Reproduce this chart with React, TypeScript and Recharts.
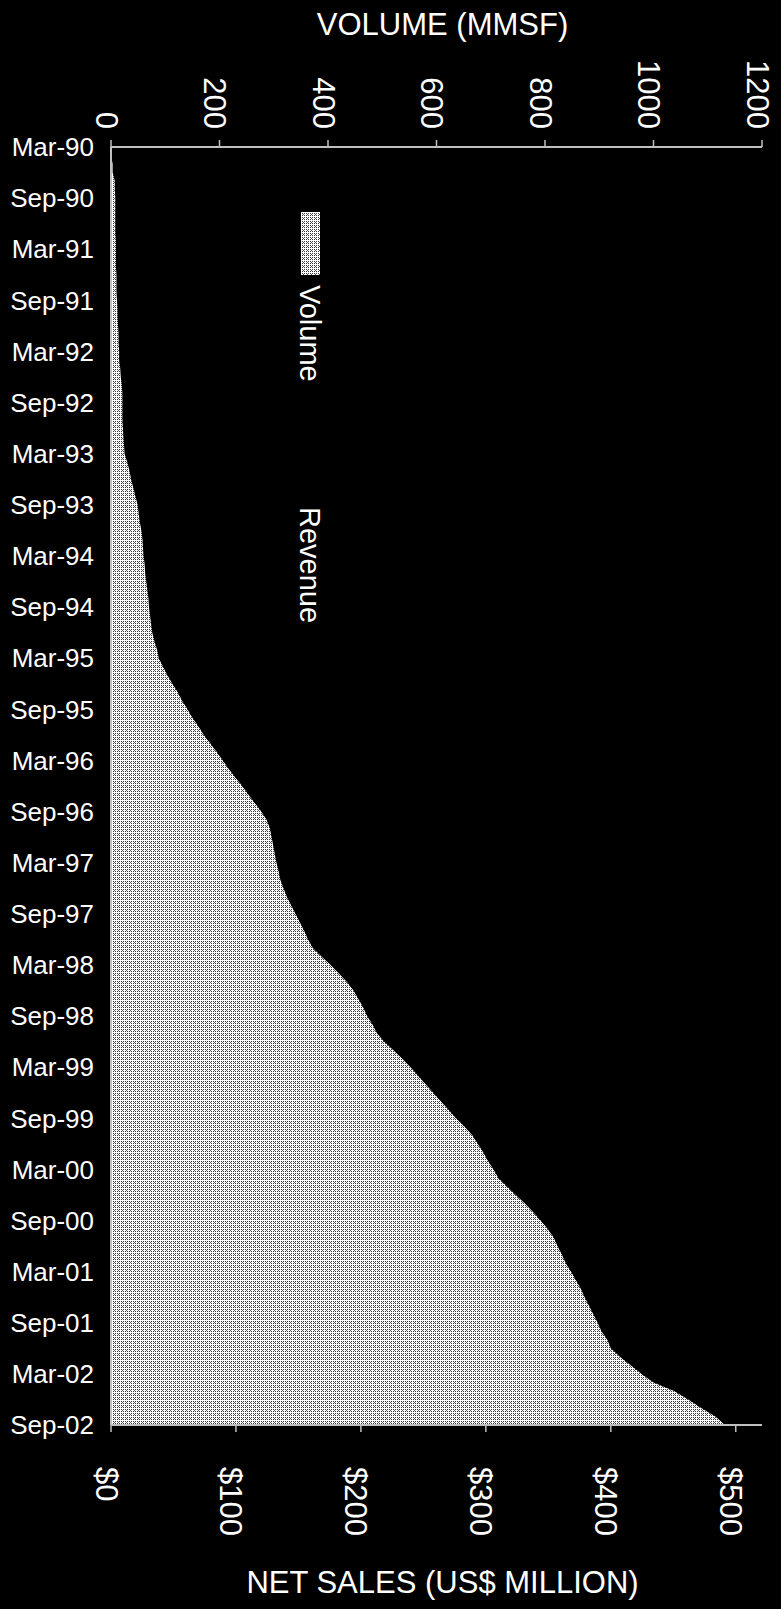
import React from "react";
import {
  Area,
  ComposedChart,
  Legend,
  XAxis,
  YAxis,
} from "recharts";

const FONT = "'Liberation Sans', Arial, Helvetica, sans-serif";
const AXIS = "#c0c0c0";

const MONTH_NAMES = ["Jan", "Feb", "Mar", "Apr", "May", "Jun", "Jul", "Aug", "Sep", "Oct", "Nov", "Dec"];

// Mar-90 .. Sep-02, one entry per month
const months: string[] = [];
for (let y = 1990; y <= 2002; y++) {
  for (let m = 0; m < 12; m++) {
    if (y === 1990 && m < 2) continue;
    if (y === 2002 && m > 8) continue;
    months.push(`${MONTH_NAMES[m]}-${String(y % 100).padStart(2, "0")}`);
  }
}

// volume (MMSF)
const volume = [
  0, 0, 3, 3, 7, 7, 8, 8, 8, 8,
  8, 9, 9, 9, 9, 10, 10, 10, 11, 12,
  12, 13, 14, 14, 15, 15, 17, 18, 20, 21,
  21, 21, 21, 22, 23, 24, 25, 30, 34, 37,
  41, 45, 49, 51, 53, 56, 58, 59, 60, 62,
  63, 65, 67, 69, 70, 72, 74, 76, 80, 85,
  88, 96, 104, 113, 123, 131, 141, 150, 161, 171,
  183, 195, 206, 217, 229, 242, 253, 265, 277, 287,
  293, 296, 299, 302, 305, 309, 312, 318, 324, 332,
  340, 348, 356, 363, 372, 388, 405, 420, 435, 447,
  456, 465, 472, 482, 490, 503, 520, 537, 552, 566,
  580, 594, 608, 622, 636, 652, 666, 676, 686, 695,
  705, 714, 730, 746, 763, 778, 792, 805, 816, 823,
  831, 838, 848, 857, 866, 873, 881, 889, 897, 904,
  915, 921, 938, 958, 978, 1000, 1038, 1064, 1088, 1114,
  1132,
];

const volumeTicks = [0, 200, 400, 600, 800, 1000, 1200];
const salesTicks = [0, 100, 200, 300, 400, 500];
const salesMax = 521;

const data = months.map((month, i) => ({ month, volume: volume[i] }));

// dithered grey fill, like the old printer pattern
function DitherPattern({ id }: { id: string }) {
  return (
    <pattern id={id} width={4} height={4} patternUnits="userSpaceOnUse">
      <rect width={4} height={4} fill="#ffffff" />
      <rect x={1} y={1} width={1} height={1} fill="#3a3a3a" />
      <rect x={3} y={1} width={1} height={1} fill="#3a3a3a" />
      <rect x={1} y={3} width={1} height={1} fill="#3a3a3a" />
      <rect x={3} y={3} width={1} height={1} fill="#3a3a3a" />
      <rect x={2} y={2} width={1} height={1} fill="#5a5a5a" />
    </pattern>
  );
}

function VolumeTick({ x, y, payload }: any) {
  const tx = x - 5;
  return (
    <text
      x={tx}
      y={y}
      transform={`rotate(90, ${tx}, ${y})`}
      textAnchor="end"
      dominantBaseline="central"
      fill="#fff"
      fontSize={31}
      fontFamily={FONT}
    >
      {payload.value}
    </text>
  );
}

function SalesTick({ x, y, payload }: any) {
  const tx = x - 5;
  return (
    <text
      x={tx}
      y={y}
      transform={`rotate(90, ${tx}, ${y})`}
      textAnchor="start"
      dominantBaseline="central"
      fill="#fff"
      fontSize={31}
      fontFamily={FONT}
    >
      {`$${payload.value}`}
    </text>
  );
}

function axisTitle(text: string, dy: number) {
  return (props: any) => {
    const vb = props.viewBox;
    return (
      <text
        x={vb.x + vb.width / 2 + 6}
        y={vb.y + dy}
        textAnchor="middle"
        fill="#fff"
        fontSize={31}
        fontFamily={FONT}
      >
        {text}
      </text>
    );
  };
}

const vertText: React.CSSProperties = {
  writingMode: "vertical-rl",
  color: "#fff",
  fontSize: 29,
  fontFamily: FONT,
  lineHeight: "30px",
};

function renderLegend() {
  return (
    <div style={{ display: "flex", flexDirection: "column", alignItems: "center" }}>
      <svg width={19} height={63} style={{ display: "block" }}>
        <defs>
          <DitherPattern id="volPatLegend" />
        </defs>
        <rect width={19} height={63} fill="url(#volPatLegend)" shapeRendering="crispEdges" />
      </svg>
      <span style={{ ...vertText, marginTop: 10 }}>Volume</span>
      <div style={{ width: 3, height: 63, background: "#000", marginTop: 52 }} />
      <span style={{ ...vertText, marginTop: 10 }}>Revenue</span>
    </div>
  );
}

export default function App() {
  return (
    <div style={{ position: "absolute", left: 0, top: 0, width: 781, height: 1609, background: "#000" }}>
      <ComposedChart
        width={781}
        height={1609}
        data={data}
        layout="vertical"
        margin={{ top: 0, right: 19, bottom: 0, left: 0 }}
      >
        <defs>
          <DitherPattern id="volPat" />
        </defs>
        <XAxis
          xAxisId="vol"
          orientation="top"
          type="number"
          domain={[0, 1200]}
          ticks={volumeTicks}
          height={147}
          axisLine={{ stroke: AXIS, strokeWidth: 2 }}
          tickLine={{ stroke: AXIS, strokeWidth: 1.5 }}
          tickSize={7}
          tickMargin={11}
          tick={<VolumeTick />}
          label={{ content: axisTitle("VOLUME (MMSF)", 35) }}
        />
        <XAxis
          xAxisId="sales"
          orientation="bottom"
          type="number"
          domain={[0, salesMax]}
          allowDataOverflow
          ticks={salesTicks}
          height={184}
          axisLine={{ stroke: AXIS, strokeWidth: 2 }}
          tickLine={{ stroke: AXIS, strokeWidth: 1.5 }}
          tickSize={7}
          tickMargin={35}
          tick={<SalesTick />}
          label={{ content: axisTitle("NET SALES (US$ MILLION)", 168) }}
        />
        <YAxis
          type="category"
          dataKey="month"
          scale="point"
          width={111}
          interval={5}
          axisLine={{ stroke: AXIS, strokeWidth: 2 }}
          tickLine={false}
          tickSize={0}
          tickMargin={17}
          tick={{ fill: "#fff", fontSize: 26, fontFamily: FONT }}
        />
        <Legend
          layout="vertical"
          align="center"
          verticalAlign="middle"
          content={renderLegend}
          wrapperStyle={{ left: 291, top: 212, width: 38, height: 430 }}
        />
        <Area
          xAxisId="vol"
          dataKey="volume"
          name="Volume"
          type="linear"
          fill="url(#volPat)"
          fillOpacity={1}
          stroke="none"
          isAnimationActive={false}
        />
      </ComposedChart>
    </div>
  );
}
